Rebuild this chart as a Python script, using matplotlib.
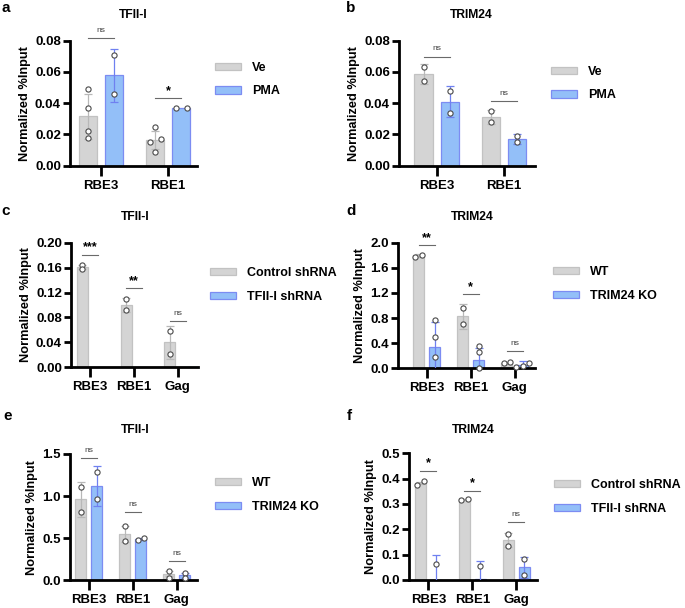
import numpy as np
import matplotlib
matplotlib.use('Agg')
import matplotlib.pyplot as plt

plt.rcParams['font.family'] = ['Liberation Sans', 'DejaVu Sans']
plt.rcParams['font.weight'] = 'bold'

GRAY = '#d4d4d4'
GRAY_EDGE = '#c2c2c2'
GRAY_ERR = '#b8b8b8'
BLUE = '#93bff8'
BLUE_EDGE = '#7c8cf2'
BLUE_ERR = '#6f80f0'

# ---- panel a: TFII-I, Ve vs PMA
a_cats = ['RBE3', 'RBE1']
a_ve_mean = [0.0315, 0.0165]
a_ve_sd = [0.0145, 0.006]
a_ve_pts = [[0.049, 0.037, 0.022, 0.018], [0.0245, 0.017, 0.015, 0.009]]
a_pma_mean = [0.058, 0.037]
a_pma_sd = [0.017, 0.0]
a_pma_pts = [[0.071, 0.046], [0.037, 0.037]]
a_sig = [(0, 0.0815, 'ns'), (1, 0.0431, '*')]
a_yticks = [0.0, 0.02, 0.04, 0.06, 0.08]

# ---- panel b: TRIM24, Ve vs PMA
b_cats = ['RBE3', 'RBE1']
b_ve_mean = [0.0585, 0.031]
b_ve_sd = [0.0065, 0.0045]
b_ve_pts = [[0.063, 0.054], [0.035, 0.028]]
b_pma_mean = [0.041, 0.017]
b_pma_sd = [0.010, 0.003]
b_pma_pts = [[0.048, 0.034], [0.019, 0.015]]
b_sig = [(0, 0.0698, 'ns'), (1, 0.0414, 'ns')]
b_yticks = [0.0, 0.02, 0.04, 0.06, 0.08]

# ---- panel c: TFII-I, control vs TFII-I shRNA
c_cats = ['RBE3', 'RBE1', 'Gag']
c_ctrl_mean = [0.161, 0.100, 0.040]
c_ctrl_sd = [0.004, 0.011, 0.026]
c_ctrl_pts = [[0.165, 0.158], [0.110, 0.092], [0.058, 0.022]]
c_sh_mean = [0.0, 0.0, 0.0]
c_sh_sd = [0.0, 0.0, 0.0]
c_sh_pts = [[], [], []]
c_sig = [(0, 0.181, '***'), (1, 0.127, '**'), (2, 0.0748, 'ns')]
c_yticks = [0.0, 0.04, 0.08, 0.12, 0.16, 0.20]

# ---- panel d: TRIM24, WT vs TRIM24 KO
d_cats = ['RBE3', 'RBE1', 'Gag']
d_wt_mean = [1.80, 0.83, 0.09]
d_wt_sd = [0.02, 0.20, 0.015]
d_wt_pts = [[1.78, 1.81], [0.96, 0.70], [0.08, 0.10]]
d_ko_mean = [0.34, 0.14, 0.05]
d_ko_sd = [0.40, 0.18, 0.07]
d_ko_pts = [[0.77, 0.50, 0.18], [0.35, 0.26, 0.0], [0.09, 0.02, 0.03]]
d_sig = [(0, 1.96, '**'), (1, 1.18, '*'), (2, 0.28, 'ns')]
d_yticks = [0.0, 0.4, 0.8, 1.2, 1.6, 2.0]

# ---- panel e: TFII-I, WT vs TRIM24 KO
e_cats = ['RBE3', 'RBE1', 'Gag']
e_wt_mean = [0.96, 0.55, 0.08]
e_wt_sd = [0.21, 0.09, 0.03]
e_wt_pts = [[1.11, 0.81], [0.64, 0.47], [0.11, 0.03]]
e_ko_mean = [1.12, 0.49, 0.06]
e_ko_sd = [0.24, 0.01, 0.03]
e_ko_pts = [[1.29, 0.97], [0.48, 0.50], [0.09, 0.03]]
e_sig = [(0, 1.456, 'ns'), (1, 0.81, 'ns'), (2, 0.226, 'ns')]
e_yticks = [0.0, 0.5, 1.0, 1.5]

# ---- panel f: TRIM24, control vs TFII-I shRNA
f_cats = ['RBE3', 'RBE1', 'Gag']
f_ctrl_mean = [0.383, 0.318, 0.158]
f_ctrl_sd = [0.005, 0.002, 0.027]
f_ctrl_pts = [[0.375, 0.39], [0.315, 0.32], [0.183, 0.133]]
f_sh_mean = [0.0, 0.005, 0.05]
f_sh_sd = [0.097, 0.07, 0.042]
f_sh_pts = [[0.065], [0.056], [0.082, 0.02]]
f_sig = [(0, 0.43, '*'), (1, 0.352, '*'), (2, 0.229, 'ns')]
f_yticks = [0.0, 0.1, 0.2, 0.3, 0.4, 0.5]

W, H = 685, 608
fig = plt.figure(figsize=(W / 100, H / 100), dpi=100)


def spread(vals, px_per_unit, px_per_x, gap):
    # horizontal offsets for points that would sit on top of each other
    offs = np.zeros(len(vals))
    if len(vals) == 0:
        return offs
    order = np.argsort(vals)
    clusters = [[order[0]]]
    for i in order[1:]:
        if (vals[i] - vals[clusters[-1][-1]]) * px_per_unit < 4:
            clusters[-1].append(i)
        else:
            clusters.append([i])
    for cl in clusters:
        n = len(cl)
        for k, i in enumerate(cl):
            offs[i] = (k - (n - 1) / 2) * gap / px_per_x
    return offs


def panel(box, xlim, cats, g1, g2, labels, sig, yticks, fmt, title, letter,
          title_xy, letter_xy, leg_xy, width, off, gap=6.5):
    x0, x1, ytop, ybot = box
    ax = fig.add_axes([x0 / W, 1 - ybot / H, (x1 - x0) / W, (ybot - ytop) / H])
    ymax = yticks[-1]
    ax.set_xlim(*xlim)
    ax.set_ylim(0, ymax)
    px_per_unit = (ybot - ytop) / ymax
    px_per_x = (x1 - x0) / (xlim[1] - xlim[0])
    x = np.arange(len(cats))
    handles = []
    for (mean, sd, pts), sign, fc, ec, erc in [(g1, -1, GRAY, GRAY_EDGE, GRAY_ERR),
                                               (g2, 1, BLUE, BLUE_EDGE, BLUE_ERR)]:
        xs = x + sign * off
        h = ax.bar(xs, mean, width, color=fc, edgecolor=ec, linewidth=0.9, zorder=2)
        handles.append(h)
        for xi, m, s in zip(xs, mean, sd):
            if s > 0:
                ax.errorbar(xi, m, yerr=s, fmt='none', ecolor=erc, elinewidth=0.9,
                            capsize=3, capthick=0.9, zorder=3)
        for xi, p in zip(xs, pts):
            p = np.array(p, dtype=float)
            if len(p) == 0:
                continue
            dx = spread(p, px_per_unit, px_per_x, gap)
            ax.scatter(xi + dx, p, s=14, facecolor='white', edgecolor='#4a4a4a',
                       linewidth=0.8, zorder=4, clip_on=False)
    for i, y, txt in sig:
        ax.plot([i - off, i + off], [y, y], color='#6a6a6a', lw=0.8,
                clip_on=False, zorder=5)
        if txt == 'ns':
            ax.annotate(txt, (i, y), xytext=(0, 3), textcoords='offset points',
                        ha='center', va='bottom', fontsize=6, fontweight='normal',
                        color='#404040', annotation_clip=False)
        else:
            ax.annotate(txt, (i, y), xytext=(0, 1), textcoords='offset points',
                        ha='center', va='bottom', fontsize=9, fontweight='bold',
                        color='black', annotation_clip=False)

    for s in ['top', 'right']:
        ax.spines[s].set_visible(False)
    for s in ['left', 'bottom']:
        ax.spines[s].set_linewidth(2.0)
    ax.set_xticks(x)
    ax.set_xticklabels(cats, fontsize=9.5, fontweight='bold')
    ax.set_yticks(yticks)
    ax.set_yticklabels([fmt.format(v) for v in yticks], fontsize=9.5, fontweight='bold')
    ax.tick_params(axis='x', length=7, width=2.0, pad=3)
    ax.tick_params(axis='y', length=5, width=2.0, pad=1.5)
    ax.set_ylabel('Normalized %Input', fontsize=9.2, fontweight='bold', labelpad=3)

    fig.text(title_xy[0] / W, 1 - title_xy[1] / H, title, ha='center', va='center',
             fontsize=8.7, fontweight='bold')
    fig.text(letter_xy[0] / W, 1 - letter_xy[1] / H, letter, ha='left', va='center',
             fontsize=11, fontweight='bold')
    ax.legend(handles, labels, loc='center left',
              bbox_to_anchor=(leg_xy[0] / W, 1 - leg_xy[1] / H),
              bbox_transform=fig.transFigure, frameon=False, borderpad=0,
              borderaxespad=0, handlelength=2.1, handleheight=0.5,
              handletextpad=0.85, labelspacing=0.95,
              prop={'size': 9, 'weight': 'bold'})
    return ax


panel((70, 197, 40.7, 165.7), (-0.46, 1.43), a_cats,
      (a_ve_mean, a_ve_sd, a_ve_pts), (a_pma_mean, a_pma_sd, a_pma_pts),
      ['Ve', 'PMA'], a_sig, a_yticks, '{:.2f}', 'TFII-I', 'a',
      (133, 15), (1, 8), (215, 79.5), 0.27, 0.195, gap=11)

panel((399, 535, 40.7, 165.7), (-0.56, 1.46), b_cats,
      (b_ve_mean, b_ve_sd, b_ve_pts), (b_pma_mean, b_pma_sd, b_pma_pts),
      ['Ve', 'PMA'], b_sig, b_yticks, '{:.2f}', 'TRIM24', 'b',
      (471, 15), (346, 8), (551, 83.5), 0.27, 0.195)

panel((71, 198, 242.7, 367.3), (-0.44, 2.46), c_cats,
      (c_ctrl_mean, c_ctrl_sd, c_ctrl_pts), (c_sh_mean, c_sh_sd, c_sh_pts),
      ['Control shRNA', 'TFII-I shRNA'], c_sig, c_yticks, '{:.2f}', 'TFII-I', 'c',
      (135, 217), (1, 211), (210, 285), 0.25, 0.18)

panel((398, 535, 242.7, 368.3), (-0.65, 2.46), d_cats,
      (d_wt_mean, d_wt_sd, d_wt_pts), (d_ko_mean, d_ko_sd, d_ko_pts),
      ['WT', 'TRIM24 KO'], d_sig, d_yticks, '{:.1f}', 'TRIM24', 'd',
      (472, 217), (346, 211), (553, 284), 0.25, 0.18)

panel((70, 197, 454, 580.3), (-0.43, 2.46), e_cats,
      (e_wt_mean, e_wt_sd, e_wt_pts), (e_ko_mean, e_ko_sd, e_ko_pts),
      ['WT', 'TRIM24 KO'], e_sig, e_yticks, '{:.1f}', 'TFII-I', 'e',
      (135, 430), (3, 416), (215, 495), 0.25, 0.18)

panel((409, 537, 453.3, 580), (-0.44, 2.47), f_cats,
      (f_ctrl_mean, f_ctrl_sd, f_ctrl_pts), (f_sh_mean, f_sh_sd, f_sh_pts),
      ['Control shRNA', 'TFII-I shRNA'], f_sig, f_yticks, '{:.1f}', 'TRIM24', 'f',
      (473, 430), (347, 416), (554, 497), 0.25, 0.18)

fig.savefig('out.png', dpi=100)
